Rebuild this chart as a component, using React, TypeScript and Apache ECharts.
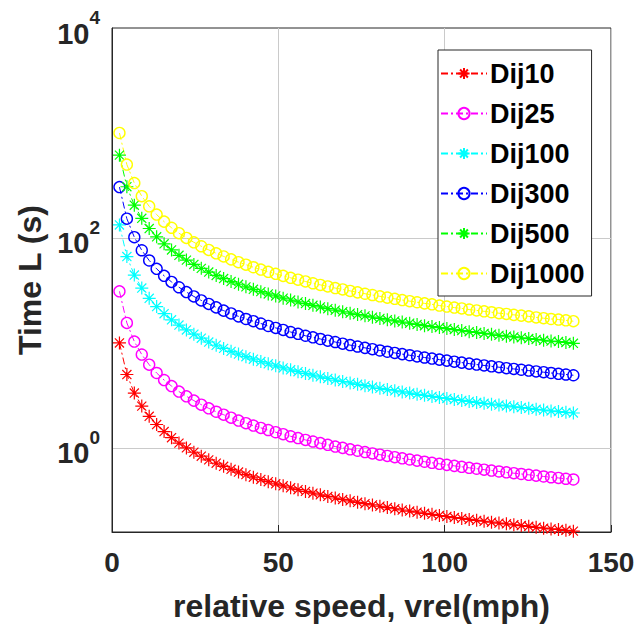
import React, { useEffect, useRef } from "react";
import * as echarts from "echarts";

// relative speed (mph)
const speed = [
  2.24, 4.47, 6.71, 8.95, 11.18, 13.42, 15.66, 17.9, 20.13, 22.37,
  24.61, 26.84, 29.08, 31.32, 33.55, 35.79, 38.03, 40.26, 42.5, 44.74,
  46.97, 49.21, 51.45, 53.69, 55.92, 58.16, 60.4, 62.63, 64.87, 67.11,
  69.34, 71.58, 73.82, 76.05, 78.29, 80.53, 82.77, 85.0, 87.24, 89.48,
  91.71, 93.95, 96.19, 98.42, 100.66, 102.9, 105.13, 107.37, 109.61, 111.85,
  114.08, 116.32, 118.56, 120.79, 123.03, 125.27, 127.5, 129.74, 131.98, 134.21,
  136.45, 138.69,
];

const dij10 = [
  10, 5, 3.33, 2.5, 2, 1.67, 1.43, 1.25, 1.11, 1,
  0.909, 0.833, 0.769, 0.714, 0.667, 0.625, 0.588, 0.556, 0.526, 0.5,
  0.476, 0.455, 0.435, 0.417, 0.4, 0.385, 0.37, 0.357, 0.345, 0.333,
  0.323, 0.313, 0.303, 0.294, 0.286, 0.278, 0.27, 0.263, 0.256, 0.25,
  0.244, 0.238, 0.233, 0.227, 0.222, 0.217, 0.213, 0.208, 0.204, 0.2,
  0.196, 0.192, 0.189, 0.185, 0.182, 0.179, 0.175, 0.172, 0.169, 0.167,
  0.164, 0.161,
];

const dij25 = [
  31, 15.5, 10.3, 7.75, 6.2, 5.17, 4.43, 3.88, 3.44, 3.1,
  2.82, 2.58, 2.38, 2.21, 2.07, 1.94, 1.82, 1.72, 1.63, 1.55,
  1.48, 1.41, 1.35, 1.29, 1.24, 1.19, 1.15, 1.11, 1.07, 1.03,
  1.0, 0.969, 0.939, 0.912, 0.886, 0.861, 0.838, 0.816, 0.795, 0.775,
  0.756, 0.738, 0.721, 0.705, 0.689, 0.674, 0.66, 0.646, 0.633, 0.62,
  0.608, 0.596, 0.585, 0.574, 0.564, 0.554, 0.544, 0.534, 0.525, 0.517,
  0.508, 0.5,
];

const dij100 = [
  133, 66.5, 44.3, 33.3, 26.6, 22.2, 19, 16.6, 14.8, 13.3,
  12.1, 11.1, 10.2, 9.5, 8.87, 8.31, 7.82, 7.39, 7.0, 6.65,
  6.33, 6.05, 5.78, 5.54, 5.32, 5.12, 4.93, 4.75, 4.59, 4.43,
  4.29, 4.16, 4.03, 3.91, 3.8, 3.69, 3.59, 3.5, 3.41, 3.33,
  3.24, 3.17, 3.09, 3.02, 2.96, 2.89, 2.83, 2.77, 2.71, 2.66,
  2.61, 2.56, 2.51, 2.46, 2.42, 2.38, 2.33, 2.29, 2.25, 2.22,
  2.18, 2.15,
];

const dij300 = [
  305, 152.5, 101.7, 76.3, 61, 50.8, 43.6, 38.1, 33.9, 30.5,
  27.7, 25.4, 23.5, 21.8, 20.3, 19.1, 17.9, 16.9, 16.1, 15.3,
  14.5, 13.9, 13.3, 12.7, 12.2, 11.7, 11.3, 10.9, 10.5, 10.2,
  9.84, 9.53, 9.24, 8.97, 8.71, 8.47, 8.24, 8.03, 7.82, 7.63,
  7.44, 7.26, 7.09, 6.93, 6.78, 6.63, 6.49, 6.35, 6.22, 6.1,
  5.98, 5.87, 5.75, 5.65, 5.55, 5.45, 5.35, 5.26, 5.17, 5.08,
  5.0, 4.92,
];

const dij500 = [
  615, 307.5, 205, 153.8, 123, 102.5, 87.9, 76.9, 68.3, 61.5,
  55.9, 51.3, 47.3, 43.9, 41, 38.4, 36.2, 34.2, 32.4, 30.8,
  29.3, 28, 26.7, 25.6, 24.6, 23.7, 22.8, 22, 21.2, 20.5,
  19.8, 19.2, 18.6, 18.1, 17.6, 17.1, 16.6, 16.2, 15.8, 15.4,
  15, 14.6, 14.3, 14, 13.7, 13.4, 13.1, 12.8, 12.6, 12.3,
  12.1, 11.8, 11.6, 11.4, 11.2, 11, 10.8, 10.6, 10.4, 10.3,
  10.1, 9.92,
];

const dij1000 = [
  1000, 500, 333, 250, 200, 167, 143, 125, 111, 100,
  90.9, 83.3, 76.9, 71.4, 66.7, 62.5, 58.8, 55.6, 52.6, 50,
  47.6, 45.5, 43.5, 41.7, 40, 38.5, 37, 35.7, 34.5, 33.3,
  32.3, 31.3, 30.3, 29.4, 28.6, 27.8, 27, 26.3, 25.6, 25,
  24.4, 23.8, 23.3, 22.7, 22.2, 21.7, 21.3, 20.8, 20.4, 20,
  19.6, 19.2, 18.9, 18.5, 18.2, 17.9, 17.5, 17.2, 16.9, 16.7,
  16.4, 16.1,
];

const seriesNames = ["Dij10", "Dij25", "Dij100", "Dij300", "Dij500", "Dij1000"];
const seriesValues = [dij10, dij25, dij100, dij300, dij500, dij1000];
const seriesColors = ["#ff0000", "#ff00ff", "#00ffff", "#0000ff", "#00ff00", "#ffff00"];
const seriesMarkers = ["star", "circle", "star", "circle", "star", "circle"];

const gridLineValues = [1, 100];

const STAR = "path://M5,0L5,10M0,5L10,5M1.5,1.5L8.5,8.5M8.5,1.5L1.5,8.5";
const FONT = "'Liberation Sans', Arial, Helvetica, sans-serif";
const INK = "#262626";
const GRID = "#cacaca";

export default function App() {
  const ref = useRef<HTMLDivElement>(null);

  useEffect(() => {
    if (!ref.current) return;
    const chart = echarts.init(ref.current, undefined, { renderer: "svg" });

    const series: any[] = seriesNames.map((name, i) => {
      const c = seriesColors[i];
      const isStar = seriesMarkers[i] === "star";
      return {
        name,
        type: "line",
        data: speed.map((x, k) => [x, seriesValues[i][k]]),
        color: c,
        symbol: isStar ? STAR : "circle",
        symbolSize: isStar ? 13 : 11,
        showAllSymbol: true,
        z: 3,
        lineStyle: { color: c, width: 1, type: [7, 3, 2, 3] },
        itemStyle: {
          color: isStar ? c : "rgba(0,0,0,0)",
          borderColor: c,
          borderWidth: isStar ? 1.2 : 1.4,
        },
        emphasis: { disabled: true },
      };
    });

    // horizontal grid lines at the labelled decades, drawn beneath the data
    series.unshift({
      type: "line",
      data: [],
      silent: true,
      z: 1,
      markLine: {
        silent: true,
        z: 1,
        symbol: ["none", "none"],
        label: { show: false },
        lineStyle: { color: GRID, type: "solid", width: 1, opacity: 1 },
        emphasis: { disabled: true },
        data: gridLineValues.map((v) => ({ yAxis: v })),
      },
    });

    chart.setOption({
      animation: false,
      backgroundColor: "#ffffff",
      grid: {
        left: 112,
        right: 27,
        top: 28,
        bottom: 101,
        show: true,
        borderColor: INK,
        borderWidth: 1,
        backgroundColor: "transparent",
        z: 0,
      },
      legend: {
        orient: "vertical",
        left: 438,
        top: 50,
        data: seriesNames,
        backgroundColor: "#ffffff",
        borderColor: INK,
        borderWidth: 1,
        borderRadius: 0,
        padding: [10, 7, 9, 2],
        itemGap: 13,
        itemWidth: 46,
        itemHeight: 14,
        selectedMode: false,
        textStyle: {
          fontFamily: FONT,
          fontWeight: "bold",
          fontSize: 27,
          color: "#000000",
          padding: [0, 0, 0, -2],
        },
      },
      xAxis: {
        type: "value",
        min: 0,
        max: 150,
        interval: 50,
        z: 1,
        name: "relative speed, vrel(mph)",
        nameLocation: "middle",
        nameGap: 58,
        nameTextStyle: { fontFamily: FONT, fontWeight: "bold", fontSize: 32, color: INK },
        axisLine: { show: true, lineStyle: { color: INK, width: 1 } },
        axisTick: { show: true, inside: true, length: 7, lineStyle: { color: INK, width: 1 } },
        axisLabel: { fontFamily: FONT, fontWeight: "bold", fontSize: 28, color: INK, margin: 16 },
        splitLine: { show: true, lineStyle: { color: GRID, width: 1, type: "solid" } },
      },
      yAxis: {
        type: "log",
        logBase: 10,
        min: 0.158,
        max: 10000,
        z: 1,
        name: "Time L (s)",
        nameLocation: "middle",
        nameGap: 64,
        nameTextStyle: { fontFamily: FONT, fontWeight: "bold", fontSize: 32, color: INK },
        axisLine: { show: true, lineStyle: { color: INK, width: 1 } },
        axisTick: { show: false },
        splitLine: { show: false },
        axisLabel: {
          margin: 12,
          formatter: (v: number) => {
            const e = Math.log10(v);
            const r = Math.round(e);
            if (Math.abs(e - r) > 1e-6 || r % 2 !== 0) return "";
            return `{b|10}{s|${r}}`;
          },
          rich: {
            b: { fontFamily: FONT, fontWeight: "bold", fontSize: 29, color: INK, lineHeight: 40, verticalAlign: "bottom" },
            s: { fontFamily: FONT, fontWeight: "bold", fontSize: 19, color: INK, verticalAlign: "top" },
          },
        },
      },
      series,
    });

    return () => chart.dispose();
  }, []);

  return (
    <div
      ref={ref}
      style={{ position: "fixed", left: 0, top: 0, width: 638, height: 633 }}
    />
  );
}
